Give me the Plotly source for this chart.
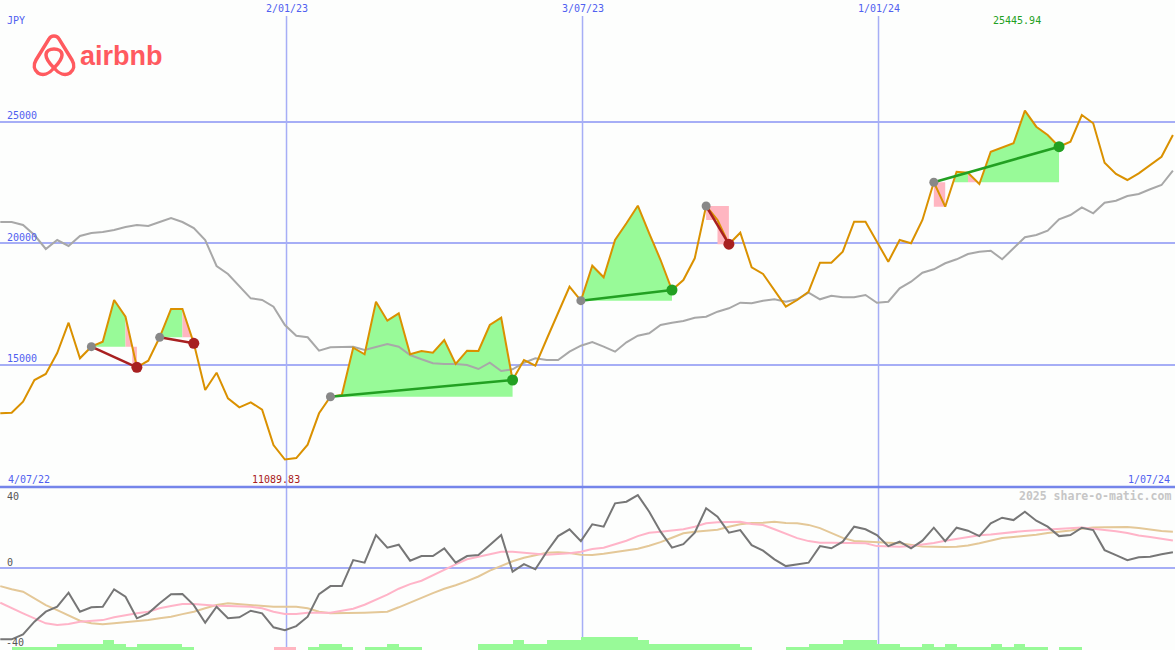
import plotly.graph_objects as go
import pandas as pd

W, H = 1175, 650

# ---------------- data ----------------
dates = pd.date_range('2022-07-10', periods=104, freq='7D')

price = [12992, 13017, 13469, 14362, 14609, 15473, 16720, 15255, 15733, 15938,
         17654, 16967, 14885, 15156, 16119, 17284, 17284, 15872, 13951, 14663,
         13609, 13239, 13445, 13140, 11687, 11089.83, 11150, 11700, 12992, 13675,
         13745, 15691, 15420, 17584, 16803, 17107, 15420, 15556, 15486, 16008,
         15021, 15568, 15556, 16626, 16926, 14362, 15185, 14951, 16050, 17100,
         18200, 17626, 19066, 18588, 20123, 20811, 21535, 20399, 19300, 18066,
         18477, 19370, 21523, 20947, 19950, 20424, 19000, 18724, 18066, 17379,
         17654, 17996, 19189, 19189, 19642, 20877, 20877, 20054, 19231, 20123,
         19988, 20947, 22500, 21494, 22934, 22893, 22428, 23757, 23922, 24103,
         25445.94, 24786, 24444, 23963, 24169, 25267, 24926, 23305, 22840, 22593,
         22868, 23210, 23551, 24444]

ma_long = [20864, 20864, 20741, 20329, 19753, 20123, 19877, 20288, 20412, 20453,
           20535, 20658, 20741, 20700, 20864, 21029, 20864, 20617, 20123, 19053,
           18724, 18230, 17724, 17654, 17379, 16626, 16185, 16119, 15568, 15708,
           15733, 15733, 15597, 15733, 15844, 15733, 15391, 15214, 15049, 15021,
           15021, 14980, 14815, 15074, 14733, 14803, 15074, 15255, 15185, 15185,
           15527, 15774, 15926, 15733, 15527, 15914, 16185, 16284, 16626, 16720,
           16790, 16926, 16967, 17173, 17313, 17543, 17519, 17626, 17683, 17584,
           17683, 17955, 17683, 17831, 17766, 17766, 17860, 17543, 17584, 18136,
           18407, 18778, 18918, 19165, 19329, 19547, 19642, 19683, 19329, 19782,
           20235, 20329, 20506, 20975, 21152, 21469, 21222, 21658, 21741, 21934,
           22016, 22210, 22387, 22975]

osc = [-35.8, -35.8, -33.3, -27, -22, -19.5, -12.5, -22, -19.8, -19.5,
       -10.8, -14.5, -25.3, -22.8, -17.8, -13.3, -13.2, -18.7, -27.5, -19.5,
       -25.3, -24.8, -21.5, -22.8, -29.8, -31.2, -29.2, -24.5, -13.2, -9.2,
       -9.2, 3.8, 2.5, 16.3, 10, 11.5, 3.5, 5.8, 5.8, 9.7,
       2.5, 5.8, 6.3, 11.3, 16.3, -2, 1.8, -0.8, 8, 15.8,
       19.2, 13.3, 21.7, 20.5, 32.2, 33, 36.3, 28, 18, 10,
       11.8, 17.5, 29.7, 25.5, 17.5, 18.8, 11.3, 8.5, 4.2, 0.8,
       1.8, 2.5, 10.8, 9.7, 13, 20.5, 19.2, 16.3, 10.8, 13,
       9.7, 13.5, 20, 13.3, 20, 18.5, 15.8, 22.2, 25, 23.8,
       28, 23.5, 20.5, 15.8, 16.3, 20, 18.8, 8.8, 6.3, 3.8,
       5.2, 5.5, 6.7, 7.7]

osc_pink = [-17.5, -20.3, -22.8, -25.3, -27.8, -28.7, -28.2, -27, -26.5, -26.2,
            -24.8, -23.7, -22.8, -22, -20.3, -19.2, -18.2, -18.2, -18.7, -19,
            -19.2, -19.5, -19.5, -20.3, -22, -23.2, -23.2, -22.5, -22.5, -22.5,
            -21.5, -20.5, -18.5, -16, -13.5, -10.5, -8.2, -6.5, -3.7, -0.8,
            1.7, 4.2, 5.5, 6.8, 8, 8, 7.5, 6.8, 6.5, 6.8,
            7.2, 8, 9.3, 10, 11.8, 13.5, 15.8, 17.5, 18, 18.5,
            19.2, 20.5, 22.2, 22.7, 22.7, 23, 21.8, 21.3, 19.2, 16.8,
            14.8, 13.3, 12.5, 12.5, 12.5, 12.5, 12.2, 10.8, 10.5, 10.5,
            10.8, 11.6, 12.3, 13.5, 14.5, 15.4, 16.2, 16.6, 17.3, 17.8,
            18.4, 18.7, 19, 19.4, 19.9, 20.1, 19.5, 18.9, 18.2, 17.3,
            16.1, 15.3, 14.6, 13.6]

osc_tan = [-9.2, -10.8, -12, -15.3, -18.7, -21.2, -24, -26.5, -27.8, -28.3,
           -27.8, -27.3, -27, -26.2, -25.3, -24.5, -23.2, -22, -20.3, -18.7,
           -17.8, -18.2, -18.7, -19.2, -19.5, -19.5, -19.5, -20.3, -22, -22.8,
           -22.8, -22.8, -22.5, -22.3, -22, -19.8, -17.3, -15, -12.7, -10.5,
           -8.8, -6.7, -4.4, -1.5, 1, 3.2, 5, 6.2, 7.5, 7.7,
           7.3, 6.5, 6.3, 7, 7.8, 8.7, 9.5, 11, 12.8, 15,
           17.2, 18, 18.4, 19, 20.5, 21.7, 22.4, 22.5, 23, 22.4,
           22.2, 21.4, 19.8, 17.4, 14.9, 13.4, 13, 12.7, 12.5, 12.2,
           11.4, 10.6, 10.5, 10.3, 10.5, 11.1, 12.2, 13.6, 14.8, 15.4,
           15.9, 16.5, 17.3, 17.9, 18.6, 19.5, 20.1, 20.2, 20.4, 20.3,
           19.8, 19, 18.3, 18]

bar_level = [0, 1, 1, 1, 1, 2, 2, 2, 2, 3,
             2, 1, 2, 2, 2, 2, 1, 0, 0, 0,
             0, 0, 0, 0, -1, -1, 0, 1, 2, 2,
             1, 0, 1, 1, 2, 1, 1, 0, 0, 0,
             0, 0, 2, 2, 2, 3, 2, 2, 3, 3,
             3, 4, 4, 4, 4, 4, 3, 2, 2, 2,
             2, 2, 2, 2, 2, 1, 0, 0, 0, 1,
             1, 2, 2, 2, 3, 3, 3, 2, 2, 1,
             1, 2, 1, 2, 1, 1, 1, 2, 1, 2,
             1, 1, 0, 1, 1, 0, 0, 0, 0, 0,
             0, 0, 0, 0]

trade_start = [8, 14, 29, 51, 62, 82]
trade_end = [12, 17, 45, 59, 64, 93]

grid_dates = ['2023-01-02', '2023-07-03', '2024-01-01']
grid_labels = ['2/01/23', '3/07/23', '1/01/24']
price_ticks = [25000, 20000, 15000]
osc_ticks = [40, 0, -40]
min_label, max_label = '11089.83', '25445.94'

# ---------------- styles ----------------
BG = '#fdfefd'
BLUE_TXT = '#5060f0'
GRID = '#a6aef6'
GREEN_FILL = '#98fa98'
PINK_FILL = '#ffb6c1'
PRICE_COL = '#da9100'
MA_COL = '#a8a8a8'
RED = '#a82020'
GREEN = '#22a022'
MONO = 'DejaVu Sans Mono'

UP_RANGE = [9959, 30000]
LO_RANGE = [-41.15, 39.85]
UP_DOM = [1 - 487 / H, 1]
LO_DOM = [0, 162 / H]

fig = go.Figure()

# ---------------- trade shading ----------------
gx, gy, px_, py_ = [], [], [], []


def add_poly(xs, ys, pts):
    xs += [p[0] for p in pts] + [None]
    ys += [p[1] for p in pts] + [None]


for s, e in zip(trade_start, trade_end):
    base = price[s]
    for k in range(s, e):
        p0, p1 = price[k], price[k + 1]
        x0, x1 = dates[k], dates[k + 1]
        if p1 >= base:
            if p0 >= base:
                add_poly(gx, gy, [(x0, base), (x0, p0), (x1, p1), (x1, base)])
            else:
                t = (base - p0) / (p1 - p0)
                xc = x0 + (x1 - x0) * t
                add_poly(gx, gy, [(xc, base), (x1, p1), (x1, base)])
        else:
            if p0 > base:
                t = (p0 - base) / (p0 - p1)
                xc = x0 + (x1 - x0) * t
                add_poly(px_, py_, [(x0, base), (x0, p0), (xc, base)])
            else:
                xc = x0
            add_poly(px_, py_, [(xc, base), (xc, p1), (x1, p1), (x1, base)])

fig.add_trace(go.Scatter(x=gx, y=gy, mode='lines', fill='toself', fillcolor=GREEN_FILL,
                         line=dict(width=0), hoverinfo='skip', xaxis='x', yaxis='y'))
fig.add_trace(go.Scatter(x=px_, y=py_, mode='lines', fill='toself', fillcolor=PINK_FILL,
                         line=dict(width=0), hoverinfo='skip', xaxis='x', yaxis='y'))

# ---------------- upper lines ----------------
fig.add_trace(go.Scatter(x=dates, y=ma_long, mode='lines', line=dict(color=MA_COL, width=2),
                         xaxis='x', yaxis='y'))
fig.add_trace(go.Scatter(x=dates, y=price, mode='lines', line=dict(color=PRICE_COL, width=2),
                         xaxis='x', yaxis='y'))

for s, e in zip(trade_start, trade_end):
    win = price[e] >= price[s]
    col = GREEN if win else RED
    fig.add_trace(go.Scatter(x=[dates[s], dates[e]], y=[price[s], price[e]], mode='lines',
                             line=dict(color=col, width=2.5), xaxis='x', yaxis='y'))
    fig.add_trace(go.Scatter(x=[dates[s]], y=[price[s]], mode='markers',
                             marker=dict(color='#888888', size=9), xaxis='x', yaxis='y'))
    fig.add_trace(go.Scatter(x=[dates[e]], y=[price[e]], mode='markers',
                             marker=dict(color=col, size=11), xaxis='x', yaxis='y'))

# ---------------- lower panel ----------------
bar_x = [d + pd.Timedelta(hours=84) for d in dates]
bar_h = [abs(v) * 1.6 for v in bar_level]
bar_c = [GREEN_FILL if v >= 0 else PINK_FILL for v in bar_level]
fig.add_trace(go.Bar(x=bar_x, y=bar_h, base=LO_RANGE[0], marker=dict(color=bar_c, line=dict(width=0)),
                     width=7 * 86400000, xaxis='x2', yaxis='y2'))
fig.add_trace(go.Scatter(x=dates, y=osc_tan, mode='lines', line=dict(color='#e4c898', width=2),
                         xaxis='x2', yaxis='y2'))
fig.add_trace(go.Scatter(x=dates, y=osc_pink, mode='lines', line=dict(color='#ffb4c8', width=2),
                         xaxis='x2', yaxis='y2'))
fig.add_trace(go.Scatter(x=dates, y=osc, mode='lines', line=dict(color='#767676', width=2),
                         xaxis='x2', yaxis='y2'))

# ---------------- shapes ----------------
shapes = []
for d in grid_dates:
    shapes.append(dict(type='line', xref='x', yref='paper', x0=d, x1=d, y0=0, y1=1 - 16 / H,
                       line=dict(color=GRID, width=1.5), layer='below'))
shapes.append(dict(type='line', xref='paper', yref='paper', x0=0, x1=1, y0=1 - 487 / H, y1=1 - 487 / H,
                   line=dict(color='#7585ea', width=2.5), layer='above'))


def P(path):
    out = []
    for tok in path.split():
        if ',' in tok:
            a, b = tok.split(',')
            out.append('%.5f,%.5f' % (float(a) / W, 1 - float(b) / H))
        else:
            out.append(tok)
    return ' '.join(out)


LOGO = '#ff5a5f'
outer = ('M 54,68 C 49,74 43,76 38,73 C 34,70 33,65 36,60 L 49,39 C 51,35 57,35 59,39 '
         'L 72,60 C 75,65 74,70 70,73 C 65,76 59,74 54,68')
inner = 'M 54,68 C 48,62 46,58 46,55 C 46,51 50,49 54,49 C 58,49 62,51 62,55 C 62,58 60,62 54,68'
for pth in (outer, inner):
    shapes.append(dict(type='path', xref='paper', yref='paper', path=P(pth),
                       line=dict(color=LOGO, width=3.5), layer='above'))

# ---------------- annotations ----------------
anns = []


def ann(text, x, y, color, size=10, xanchor='left', xref='paper', yref='paper', bold=False,
        family=MONO, yshift=0):
    if xref == 'paper':
        x = x / W
    if yref == 'paper':
        y = 1 - y / H
    anns.append(dict(text=('<b>%s</b>' % text) if bold else text, x=x, y=y, xref=xref, yref=yref,
                     xanchor=xanchor, yanchor='middle', showarrow=False, yshift=yshift,
                     font=dict(family=family, size=size, color=color)))


ann('JPY', 5, 21, BLUE_TXT)
for v in price_ticks:
    ann(str(v), 5, v, BLUE_TXT, yref='y', yshift=6)
for d, t in zip(grid_dates, grid_labels):
    ann(t, d, 9, BLUE_TXT, xanchor='center', xref='x')
ann(max_label, 1017, 21, GREEN, xanchor='center')
ann(min_label, 276, 479, RED, xanchor='center')
ann('4/07/22', 6, 479, BLUE_TXT)
ann('1/07/24', 1172, 479, BLUE_TXT, xanchor='right')
ann('2025 share-o-matic.com', 1173, 496, '#c6c6c6', size=11.5, xanchor='right', bold=True)
ann(str(osc_ticks[0]), 5, 496, '#555555')
ann(str(osc_ticks[1]), 5, 562, '#555555')
ann(str(osc_ticks[2]), 4, 642, '#555555')
ann('airbnb', 78, 56, LOGO, size=27, bold=True, family='Liberation Sans')

x_range = [dates[0] - pd.Timedelta(hours=4), dates[-1] + pd.Timedelta(hours=31)]

fig.update_layout(
    width=W, height=H, margin=dict(l=0, r=0, t=0, b=0),
    paper_bgcolor=BG, plot_bgcolor=BG, showlegend=False, hovermode=False,
    bargap=0,
    xaxis=dict(type='date', range=x_range, domain=[0, 1], anchor='y', showgrid=False,
               showticklabels=False, zeroline=False, showline=False, ticks=''),
    xaxis2=dict(type='date', range=x_range, domain=[0, 1], anchor='y2', matches='x', showgrid=False,
                showticklabels=False, zeroline=False, showline=False, ticks=''),
    yaxis=dict(domain=UP_DOM, range=UP_RANGE, tickvals=price_ticks, showticklabels=False,
               showgrid=True, gridcolor=GRID, gridwidth=2, zeroline=False, showline=False, ticks=''),
    yaxis2=dict(domain=LO_DOM, range=LO_RANGE, tickvals=[0], showticklabels=False,
                showgrid=True, gridcolor=GRID, gridwidth=2, zeroline=False, showline=False, ticks=''),
    shapes=shapes, annotations=anns,
)

fig.write_html('out.html', config={'displayModeBar': False},
               post_script="document.body.style.margin='0';document.body.style.overflow='hidden';")
